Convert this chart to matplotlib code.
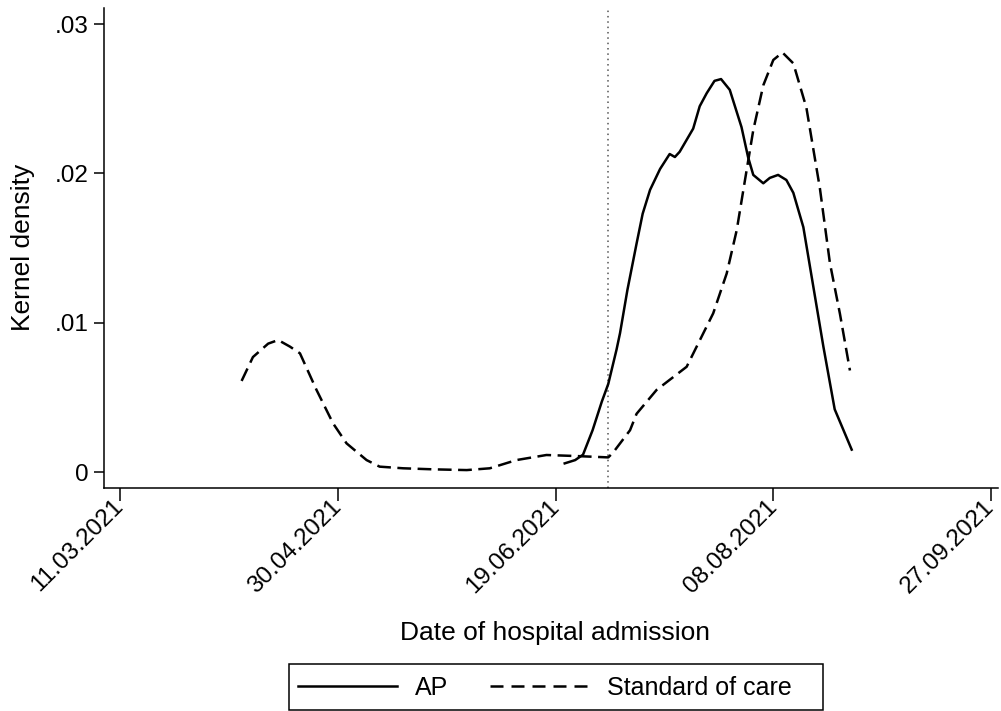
import numpy as np
import pandas as pd
import matplotlib
matplotlib.use("Agg")
import matplotlib.pyplot as plt
import matplotlib.dates as mdates
from matplotlib.lines import Line2D
from matplotlib.patches import Rectangle

plt.rcParams["font.family"] = ["Liberation Sans", "DejaVu Sans"]

# ----------------------------------------------------------
# Data (days since 11.03.2021, kernel density)
# ----------------------------------------------------------

BASE_DATE = pd.Timestamp("2021-03-11")
CUTOFF_DATE = pd.Timestamp("2021-07-01")

soc_days = [27.9, 30.5, 34.0, 36.3, 39.0, 41.3, 45.1, 48.9, 52.0, 56.6,
            59.6, 65.0, 71.9, 79.6, 84.9, 91.0, 97.9, 104.8, 112.1, 113.2,
            117.1, 118.6, 120.9, 123.2, 130.1, 132.4, 136.2, 139.3, 141.6,
            143.5, 145.4, 147.7, 150.0, 152.1, 154.6, 157.6, 160.7, 163.0,
            165.3, 167.6]
soc_dens = [0.0061, 0.0077, 0.0086, 0.00884, 0.0084, 0.00795, 0.0055,
            0.00326, 0.00192, 0.0008, 0.00036, 0.00025, 0.00018, 0.00013,
            0.00025, 0.0008, 0.00114, 0.00107, 0.00098, 0.0013, 0.0028,
            0.0039, 0.0047, 0.0055, 0.00705, 0.0084, 0.01063, 0.0133,
            0.0162, 0.01956, 0.0229, 0.0259, 0.0276, 0.0281, 0.02737,
            0.0244, 0.019, 0.014, 0.0106, 0.0068]

ap_days = [102.1, 104.5, 106.3, 108.5, 110.6, 112.1, 114.0, 114.8, 116.5,
           118.6, 120.0, 121.7, 124.0, 126.2, 127.4, 128.5, 130.0, 131.6,
           133.1, 134.7, 136.5, 138.0, 140.0, 142.7, 144.2, 145.4, 147.7,
           149.2, 151.1, 153.0, 154.6, 156.9, 159.2, 161.5, 164.1, 168.0]
ap_dens = [0.00058, 0.0008, 0.00116, 0.0028, 0.0047, 0.0059, 0.0082,
           0.0093, 0.0122, 0.0153, 0.0173, 0.0189, 0.0203, 0.0213, 0.0211,
           0.02145, 0.0222, 0.0230, 0.0245, 0.02537, 0.0262, 0.02632,
           0.0256, 0.0231, 0.0211, 0.0199, 0.01934, 0.0197, 0.0199,
           0.01956, 0.0187, 0.0164, 0.0124, 0.0084, 0.0042, 0.0015]

tick_days = [0, 50, 100, 150, 200]
y_ticks = [0, 0.01, 0.02, 0.03]
y_tick_labels = ["0", ".01", ".02", ".03"]


def to_dates(days):
    return BASE_DATE + pd.to_timedelta(np.asarray(days), unit="D")


# ----------------------------------------------------------
# Figure
# ----------------------------------------------------------

W, H = 1001, 711
fig = plt.figure(figsize=(W / 100, H / 100), dpi=100)

left, right, top, bottom = 104, 998, 8, 488
ax = fig.add_axes([left / W, 1 - bottom / H, (right - left) / W, (bottom - top) / H])

LW = 1.8

ax.axvline(CUTOFF_DATE, color="#555555", linestyle=(0, (1, 2.5)), linewidth=1.1)

ax.plot(to_dates(ap_days), ap_dens, color="black", linewidth=LW,
        solid_joinstyle="round")
ax.plot(to_dates(soc_days), soc_dens, color="black", linewidth=LW,
        linestyle=(0, (5.5, 2.6)))

ax.set_xlim(to_dates([-3.7])[0], to_dates([201.6])[0])
ax.set_ylim(-0.00107, 0.03108)

ax.set_xticks(to_dates(tick_days))
ax.xaxis.set_major_formatter(mdates.DateFormatter("%d.%m.%Y"))
ax.set_yticks(y_ticks)
ax.set_yticklabels(y_tick_labels)

ax.tick_params(axis="both", labelsize=17.5, length=7, width=1.1,
               color="black", pad=4)
ax.tick_params(axis="x", length=9, pad=2)

for lab in ax.get_xticklabels():
    lab.set_rotation(45)
    lab.set_ha("right")
    lab.set_va("center")
    lab.set_rotation_mode("anchor")

ax.spines["top"].set_visible(False)
ax.spines["right"].set_visible(False)
ax.spines["left"].set_linewidth(1.1)
ax.spines["bottom"].set_linewidth(1.1)

# axis titles
fig.text(555 / W, 1 - 633 / H, "Date of hospital admission", fontsize=19,
         ha="center", va="center")
fig.text(23 / W, 1 - 247 / H, "Kernel density", fontsize=19,
         ha="center", va="center", rotation=90)

# legend box
fig.patches.append(Rectangle((289 / W, 1 - 710 / H), (823 - 289) / W, 46 / H,
                             transform=fig.transFigure, fill=False,
                             edgecolor="black", linewidth=1.1))

handles = [
    Line2D([], [], color="black", linewidth=LW),
    Line2D([], [], color="black", linewidth=LW, linestyle=(0, (5.2, 3.2))),
]
leg = fig.legend(
    handles,
    ["AP", "Standard of care"],
    loc="center left",
    bbox_to_anchor=(298 / W, 1 - 688 / H),
    ncol=2,
    frameon=False,
    fontsize=18,
    handlelength=3.95,
    handletextpad=0.72,
    columnspacing=1.68,
    borderpad=0.0,
    borderaxespad=0.0,
)

fig.savefig("out.png", dpi=100, facecolor="white")
